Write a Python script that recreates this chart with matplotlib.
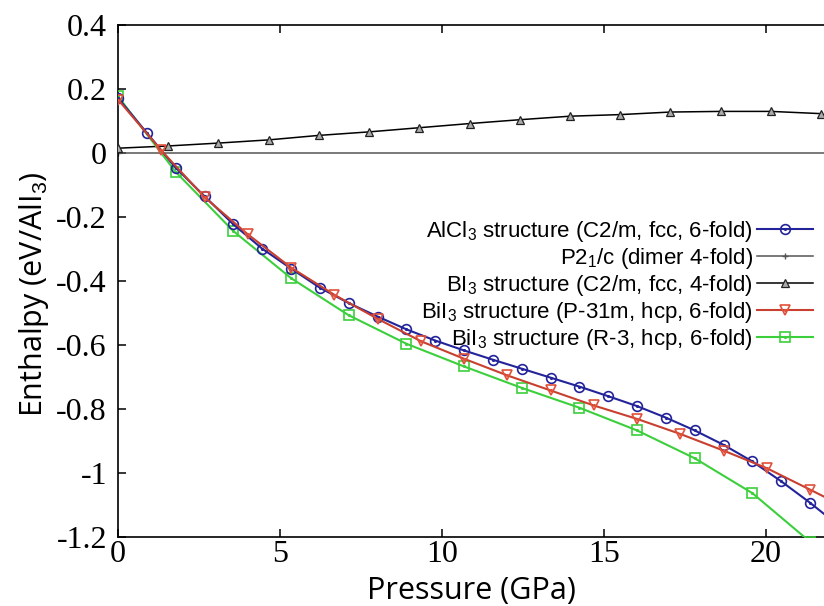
import matplotlib
matplotlib.use("Agg")
import matplotlib.pyplot as plt
from matplotlib.legend_handler import HandlerTuple

# ---------------- data ----------------
p_alcl3 = [0, 0.89, 1.78, 2.67, 3.56, 4.45, 5.34, 6.23, 7.12, 8.01, 8.90, 9.79,
           10.68, 11.57, 12.46, 13.35, 14.24, 15.13, 16.02, 16.91, 17.80, 18.69,
           19.58, 20.47, 21.36, 22.25]
h_alcl3 = [0.172, 0.063, -0.046, -0.135, -0.223, -0.299, -0.361, -0.421, -0.469,
           -0.511, -0.551, -0.586, -0.617, -0.646, -0.674, -0.702, -0.730, -0.760,
           -0.791, -0.827, -0.867, -0.912, -0.964, -1.026, -1.093, -1.165]

p_dimer = [0, 22.5]
h_dimer = [0.0, 0.0]

p_bi3 = [0, 1.55, 3.1, 4.65, 6.2, 7.75, 9.3, 10.85, 12.4, 13.95, 15.5, 17.05,
         18.6, 20.15, 21.7]
h_bi3 = [0.015, 0.022, 0.031, 0.041, 0.055, 0.066, 0.079, 0.092, 0.104, 0.115,
         0.120, 0.128, 0.130, 0.130, 0.123]

p_p31m = [0, 1.335, 2.67, 4.005, 5.34, 6.675, 8.01, 9.345, 10.68, 12.015, 13.35,
          14.685, 16.02, 17.355, 18.69, 20.025, 21.36, 22.695]
h_p31m = [0.167, 0.008, -0.138, -0.254, -0.358, -0.443, -0.518, -0.588, -0.643,
          -0.695, -0.742, -0.789, -0.831, -0.878, -0.930, -0.985, -1.052, -1.12]

p_r3 = [0, 1.78, 3.56, 5.34, 7.12, 8.90, 10.68, 12.46, 14.24, 16.02, 17.80,
        19.58, 21.36, 23.14]
h_r3 = [0.177, -0.059, -0.244, -0.391, -0.507, -0.596, -0.667, -0.734, -0.796,
        -0.867, -0.954, -1.063, -1.215, -1.40]

labels = [r"AlCl$_3$ structure (C2/m, fcc, 6-fold)",
          r"P2$_1$/c (dimer 4-fold)",
          r"BI$_3$ structure (C2/m, fcc, 4-fold)",
          r"BiI$_3$ structure (P-31m, hcp, 6-fold)",
          r"BiI$_3$ structure (R-3, hcp, 6-fold)"]

xticks = [0, 5, 10, 15, 20]
yticks = [0.4, 0.2, 0, -0.2, -0.4, -0.6, -0.8, -1, -1.2]
yticklabels = ["0.4", "0.2", "0", "-0.2", "-0.4", "-0.6", "-0.8", "-1", "-1.2"]

# ---------------- style ----------------
plt.rcParams['mathtext.fontset'] = 'custom'
plt.rcParams['mathtext.rm'] = 'Liberation Sans'
plt.rcParams['mathtext.default'] = 'rm'

W, H = 824, 606
fig = plt.figure(figsize=(W / 100, H / 100), dpi=100)
left, right, top, bottom = 118, 824, 25, 537
ax = fig.add_axes([left / W, (H - bottom) / H, (right - left) / W, (bottom - top) / H])

blue = "#23239a"
red = "#c8402f"
green = "#3ccf3c"

l1, = ax.plot(p_alcl3, h_alcl3, color=blue, lw=1.5, marker='o', ms=7,
              mfc='none', mec=blue, mew=1.2, zorder=4)
d1, = ax.plot(p_alcl3, h_alcl3, ls='none', marker='.', ms=2.5, color=blue, zorder=4)
l2, = ax.plot(p_dimer, h_dimer, color="#555555", lw=1.1, marker='+', ms=5, zorder=2)
l3, = ax.plot(p_bi3, h_bi3, color="black", lw=1.1, marker='^', ms=6,
              mfc="#aaaaaa", mec="#222222", mew=0.9, zorder=3)
l4, = ax.plot(p_p31m, h_p31m, color=red, lw=1.5, marker='v', ms=7,
              mfc='none', mec="#e0503a", mew=1.2, zorder=5)
d4, = ax.plot(p_p31m, h_p31m, ls='none', marker='.', ms=2.5, color="#e0503a", zorder=5)
l5, = ax.plot(p_r3, h_r3, color=green, lw=1.5, marker='s', ms=6.5,
              mfc='none', mec=green, mew=1.2, zorder=3)
d5, = ax.plot(p_r3, h_r3, ls='none', marker='.', ms=2.5, color=green, zorder=3)

ax.set_xlim(0, (right - left) / 32.4)
ax.set_ylim(-1.2, 0.4)

ax.set_xticks(xticks)
ax.set_xticklabels([str(t) for t in xticks], fontfamily='Liberation Serif', fontsize=23)
ax.set_yticks(yticks)
ax.set_yticklabels(yticklabels, fontfamily='Liberation Serif', fontsize=23)
ax.tick_params(axis='both', direction='in', length=6, width=1.1, top=True, right=False)
ax.tick_params(axis='x', pad=2)
ax.tick_params(axis='y', pad=8)

for s in ['left', 'bottom', 'top']:
    ax.spines[s].set_linewidth(1.2)
ax.spines['right'].set_visible(False)

ax.set_xlabel("Pressure (GPa)", fontfamily='Open Sans', fontsize=22, labelpad=5)
ax.set_ylabel(r"Enthalpy (eV/AlI$_3$)", fontfamily='Open Sans', fontsize=22, labelpad=4)
ax.yaxis.label.set_y(0.475)

leg = ax.legend([(l1, d1), l2, l3, (l4, d4), (l5, d5)], labels,
                handler_map={tuple: HandlerTuple(ndivide=1, pad=0)},
                loc='upper right', bbox_to_anchor=(813 / W, 1 - 219 / H),
                bbox_transform=fig.transFigure, frameon=False, markerfirst=False,
                prop={'family': 'Liberation Sans', 'size': 16},
                handlelength=2.5, handletextpad=0.2, labelspacing=0.09,
                borderpad=0, borderaxespad=0, numpoints=1)

fig.savefig("out.png", dpi=100)
